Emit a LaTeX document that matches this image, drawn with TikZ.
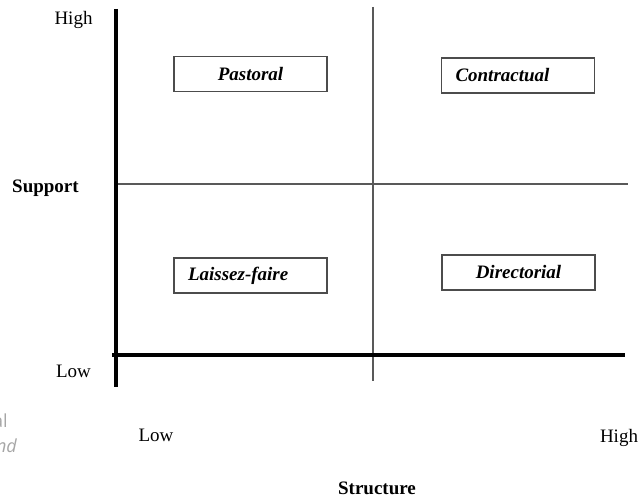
\documentclass[tikz,border=0pt]{standalone}
\usepackage{fontspec}
\setmainfont{Liberation Serif}
\newfontfamily\faintfont{Open Sans}
\begin{document}
\begin{tikzpicture}[x=1pt,y=-1pt,
  axis/.style={line width=4pt, black},
  divider/.style={line width=1.2pt, black!65},
  quad/.style={draw=black!70, line width=1.5pt, minimum height=35pt, inner ysep=0pt, inner xsep=14pt, text width=125pt,
    font=\fontsize{19}{22}\selectfont\bfseries\itshape},
  lab/.style={font=\fontsize{19}{22}\selectfont, anchor=base},
  boldlab/.style={font=\fontsize{19}{22}\selectfont\bfseries, anchor=base},
  faint/.style={font=\faintfont\fontsize{18}{22}\selectfont, text=black!35, anchor=base east, inner sep=0pt},
]
\useasboundingbox (0,0) rectangle (640,500);
% axes and dividers
\coordinate (vtop) at (116,9);
\coordinate (vbot) at (116,387);
\coordinate (hleft) at (112,355);
\coordinate (hright) at (625,355);
\coordinate (dtop) at (373,7);
\coordinate (dbot) at (373,381);
\coordinate (mleft) at (118,184);
\coordinate (mright) at (628,184);
\draw[divider] (dtop) -- (dbot);
\draw[divider] (mleft) -- (mright);
\draw[axis] (vtop) -- (vbot);
\draw[axis] (hleft) -- (hright);
% quadrant boxes
\node[quad, align=center] (pastoral) at (250.5,74) {Pastoral};
\node[quad, align=left] (contractual) at (518,75.5) {Contractual};
\node[quad, align=left] (laissez) at (250.5,275.5) {Laissez-faire};
\node[quad, align=center] (directorial) at (518.5,272.5) {Directorial};
% axis labels
\node[lab] (yhigh) at (73.5,25) {High};
\node[boldlab] (ylab) at (45.5,193) {Support};
\node[lab] (ylow) at (73.5,377) {Low};
\node[lab] (xlow) at (156,441) {Low};
\node[lab] (xhigh) at (619,442) {High};
\node[boldlab] (xlab) at (377,494) {Structure};
% faint cut-off text
\node[faint] (fa) at (8,427) {al};
\node[faint, font=\faintfont\fontsize{18}{22}\selectfont\itshape] (fb) at (17,452) {nd};
\end{tikzpicture}
\end{document}
